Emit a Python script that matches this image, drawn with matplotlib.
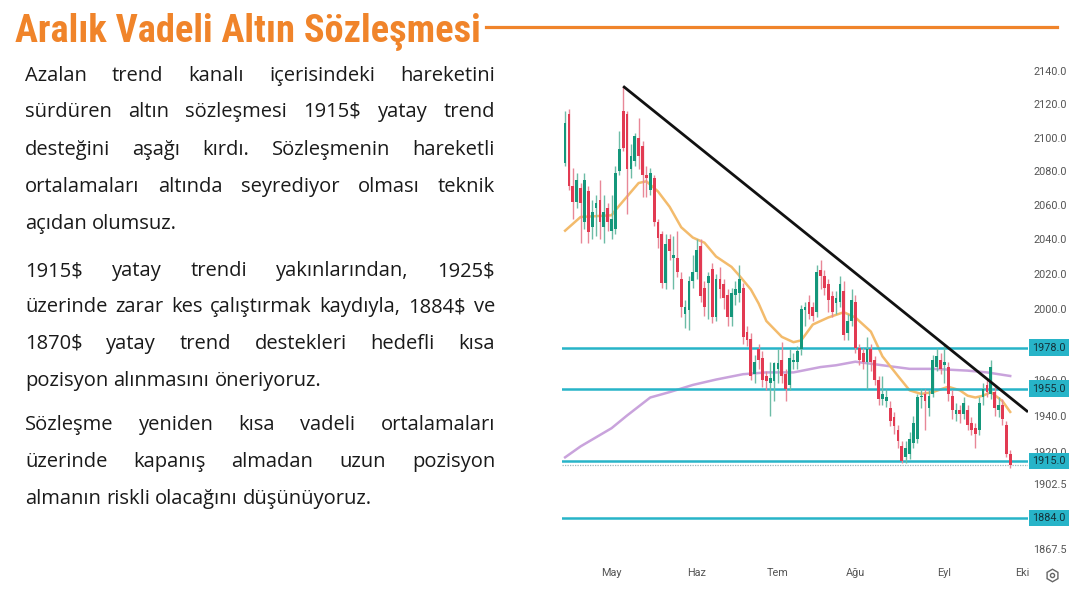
import matplotlib
matplotlib.use("Agg")
import matplotlib.pyplot as plt
import matplotlib.transforms as mtransforms
from matplotlib import font_manager
from matplotlib.lines import Line2D
from matplotlib.ticker import NullLocator
import numpy as np

# ---------------- data ----------------
title = "Aralık Vadeli Altın Sözleşmesi"

paragraphs = [
    ["Azalan trend kanalı içerisindeki hareketini",
     "sürdüren altın sözleşmesi 1915$ yatay trend",
     "desteğini aşağı kırdı. Sözleşmenin hareketli",
     "ortalamaları altında seyrediyor olması teknik",
     "açıdan olumsuz."],
    ["1915$ yatay trendi yakınlarından, 1925$",
     "üzerinde zarar kes çalıştırmak kaydıyla, 1884$ ve",
     "1870$ yatay trend destekleri hedefli kısa",
     "pozisyon alınmasını öneriyoruz."],
    ["Sözleşme yeniden kısa vadeli ortalamaları",
     "üzerinde kapanış almadan uzun pozisyon",
     "almanın riskli olacağını düşünüyoruz."],
]

open_p = [2085, 2114, 2071, 2062, 2070, 2050, 2068, 2047, 2058, 2063,
          2047, 2058, 2045, 2046, 2080, 2116, 2114, 2081, 2086, 2100,
          2095, 2078, 2069, 2076, 2050, 2043, 2015, 2040, 2029, 2029,
          2017, 1997, 1999, 2016, 2021, 2036, 2012, 2015, 2023, 1995,
          2017, 2014, 2008, 1995, 2008, 2009, 2012, 1987, 1983, 1963,
          1977, 1972, 1962, 1958, 1959, 1966, 1971, 1963, 1957, 1970,
          1970, 1977, 1999, 2004, 2001, 1998, 2022, 2019, 2014, 2007,
          2003, 2004, 2010, 1986, 1993, 2004, 1978, 1975, 1970, 1977,
          1971, 1960, 1949, 1948, 1944, 1939, 1932, 1923, 1917, 1919,
          1925, 1927, 1950, 1952, 1944, 1952, 1967, 1971, 1968, 1967,
          1951, 1941, 1943, 1941, 1943, 1936, 1933, 1932, 1950, 1957,
          1952, 1953, 1943, 1946, 1935, 1919]
high_p = [2116, 2117, 2082, 2079, 2073, 2079, 2071, 2063, 2066, 2075,
          2066, 2061, 2066, 2083, 2104, 2131, 2116, 2096, 2103, 2112,
          2098, 2083, 2082, 2078, 2052, 2045, 2043, 2043, 2042, 2045,
          2021, 2005, 2019, 2031, 2040, 2040, 2016, 2021, 2026, 2020,
          2024, 2017, 2011, 2012, 2016, 2025, 2015, 1990, 1986, 1974,
          1980, 1976, 1965, 1970, 1970, 1977, 1981, 1966, 1977, 1975,
          1979, 2002, 2004, 2008, 2004, 2025, 2028, 2022, 2017, 2010,
          2010, 2019, 2016, 1997, 2011, 2008, 1980, 1978, 1984, 1980,
          1973, 1962, 1962, 1955, 1948, 1942, 1935, 1926, 1926, 1931,
          1940, 1952, 1955, 1955, 1954, 1974, 1978, 1975, 1980, 1970,
          1954, 1947, 1946, 1950, 1946, 1939, 1936, 1950, 1958, 1960,
          1971, 1957, 1950, 1949, 1937, 1921]
low_p = [2083, 2069, 2052, 2058, 2038, 2046, 2038, 2040, 2042, 2040,
         2038, 2045, 2040, 2043, 2078, 2092, 2055, 2076, 2083, 2081,
         2065, 2065, 2066, 2048, 2035, 2012, 2011, 2028, 2011, 2018,
         1995, 1989, 1988, 2012, 2017, 2004, 1996, 1994, 1992, 1993,
         2006, 2000, 1990, 1990, 2002, 2004, 1980, 1979, 1960, 1958,
         1966, 1956, 1954, 1940, 1948, 1958, 1958, 1948, 1954, 1966,
         1966, 1974, 1990, 1994, 1993, 1995, 2011, 2008, 1998, 1995,
         1997, 2001, 1982, 1982, 1990, 1975, 1968, 1966, 1955, 1965,
         1957, 1946, 1946, 1945, 1934, 1930, 1922, 1914, 1914, 1916,
         1922, 1925, 1944, 1932, 1940, 1950, 1965, 1963, 1958, 1948,
         1938, 1937, 1936, 1938, 1932, 1929, 1922, 1929, 1946, 1950,
         1949, 1940, 1939, 1935, 1917, 1911]
close_p = [2109, 2071, 2062, 2075, 2061, 2075, 2044, 2056, 2061, 2050,
           2056, 2050, 2052, 2079, 2093, 2094, 2081, 2089, 2101, 2089,
           2078, 2076, 2079, 2050, 2041, 2015, 2037, 2033, 2031, 2021,
           2001, 2001, 2016, 2021, 2034, 2007, 2001, 2019, 1995, 2017,
           2011, 2006, 1995, 2009, 2011, 2017, 1984, 1982, 1962, 1970,
           1971, 1960, 1959, 1961, 1969, 1969, 1962, 1955, 1972, 1971,
           1976, 2000, 2001, 1997, 1996, 2021, 2019, 2012, 2005, 1998,
           2006, 2014, 1985, 1993, 2005, 1978, 1971, 1970, 1977, 1970,
           1960, 1949, 1952, 1950, 1937, 1934, 1926, 1915, 1922, 1927,
           1936, 1950, 1951, 1948, 1951, 1971, 1973, 1966, 1970, 1952,
           1943, 1943, 1941, 1947, 1935, 1932, 1930, 1947, 1955, 1953,
           1967, 1944, 1946, 1938, 1919, 1913]

# short moving average (orange) read at selected candles
ma_short_idx = [0, 4, 12, 13, 16, 19, 21, 24, 27, 30, 33, 36, 39, 43, 45, 48,
                50, 52, 56, 59, 61, 64, 68, 72, 75, 79, 82, 86, 89, 92, 95,
                99, 102, 104, 106, 108, 110, 113, 115]
ma_short_val = [2045, 2053, 2054, 2057, 2065, 2073, 2074, 2068, 2059, 2047,
                2041, 2038, 2030, 2024, 2019, 2011, 2003, 1993, 1984, 1981,
                1982, 1991, 1995, 1998, 1995, 1987, 1973, 1962, 1954, 1952,
                1953, 1956, 1954, 1951, 1950, 1951, 1953, 1948, 1942]
# long moving average (purple)
ma_long_idx = [0, 4, 12, 16, 22, 27, 33, 39, 46, 52, 59, 66, 70, 75, 82, 89,
               95, 104, 109, 115]
ma_long_val = [1917, 1923, 1933, 1940, 1950, 1953, 1957, 1960, 1963, 1964,
               1964, 1967, 1968, 1970, 1968, 1966, 1966, 1965, 1964, 1962]

levels = [1978.0, 1955.0, 1915.0, 1884.0]
trend_idx = [15, 119.6]
trend_val = [2131, 1942]

tick_vals = [2140, 2120, 2100, 2080, 2060, 2040, 2020, 2000, 1960, 1940,
             1920, 1902.5, 1867.5]
month_labels = ["May", "Haz", "Tem", "Ağu", "Eyl", "Eki"]
month_idx = [12, 34, 55, 75, 98, 118]

# ---------------- styling ----------------
W, H = 1080, 615
ORANGE = "#f0842a"
TEXT_C = "#1a1a1a"
GREEN = "#14977b"
RED = "#e23a52"
GREEN_W = "#6dbca6"
RED_W = "#e88797"
TEAL = "#27b4c8"
GRAY = "#555555"

names = {f.name for f in font_manager.fontManager.ttflist}
title_family, title_stretch = "Roboto", "normal"
for cand in ["Liberation Sans Narrow", "Roboto Condensed", "Open Sans Condensed"]:
    if cand in names:
        title_family = cand
        break
else:
    if any(f.name == "DejaVu Sans" and "ondensed" in f.fname
           for f in font_manager.fontManager.ttflist):
        title_family, title_stretch = "DejaVu Sans", "condensed"

BODY_FONT = ["Open Sans", "DejaVu Sans"]
BODY_FS = 14.5
TICK_FONT = ["Roboto", "DejaVu Sans"]

fig = plt.figure(figsize=(W / 100, H / 100), dpi=100)
fig.patch.set_facecolor("white")
renderer = fig.canvas.get_renderer()

# ---------------- title ----------------
t = fig.text(15 / W, 1 - 42 / H, title, fontsize=30, family=title_family,
             fontstretch=title_stretch, fontweight="bold", color=ORANGE,
             va="baseline", ha="left")
tw = t.get_window_extent(renderer).width
fs = min(31, 30 * 465 / tw)
t.set_fontsize(fs)
tw = t.get_window_extent(renderer).width
fig.add_artist(Line2D([(15 + tw + 5) / W, 1057 / W], [1 - 27 / H] * 2,
                      color=ORANGE, lw=2.3, transform=fig.transFigure))

# ---------------- paragraphs ----------------
X_LEFT, X_RIGHT = 25, 495
tmp1 = fig.text(0, 0, "a a", fontsize=BODY_FS, family=BODY_FONT)
tmp2 = fig.text(0, 0, "aa", fontsize=BODY_FS, family=BODY_FONT)
space_w = (tmp1.get_window_extent(renderer).width
           - tmp2.get_window_extent(renderer).width)
tmp1.remove()
tmp2.remove()

baselines = [[81, 117, 155, 192, 229], [276, 312, 349, 386], [430, 467, 504]]


def draw_line(text, base_y, justify):
    words = text.split(" ")
    ts = [fig.text(0, 1 - base_y / H, w, fontsize=BODY_FS, family=BODY_FONT,
                   color=TEXT_C, va="baseline", ha="left") for w in words]
    ws = [tt.get_window_extent(renderer).width for tt in ts]
    if justify and len(words) > 1:
        gap = (X_RIGHT - X_LEFT - sum(ws)) / (len(words) - 1)
    else:
        gap = space_w
    xpos = X_LEFT
    for tt, w in zip(ts, ws):
        tt.set_x(xpos / W)
        xpos += w + gap


for para, bls in zip(paragraphs, baselines):
    for k, (line, by) in enumerate(zip(para, bls)):
        draw_line(line, by, justify=(k < len(para) - 1))

# ---------------- chart ----------------
ax = fig.add_axes([562 / W, 1 - 560 / H, 466 / W, 500 / H])
ax.set_facecolor("white")
ax.set_yscale("log")
for s in ax.spines.values():
    s.set_visible(False)

o = np.array(open_p, float)
h = np.array(high_p, float)
l = np.array(low_p, float)
c = np.array(close_p, float)
x = np.arange(len(c))
up = c >= o
body_lo = np.minimum(o, c)
body_h = np.maximum(np.abs(c - o), 0.9)

# moving averages
ax.plot(ma_long_idx, ma_long_val, color="#c9a3dc", lw=1.8, zorder=1)
ax.plot(ma_short_idx, ma_short_val, color="#f3bb6c", lw=1.8, zorder=1)

# level lines
for lv in levels:
    ax.axhline(lv, color=TEAL, lw=1.8, zorder=1.5)
ax.axhline(close_p[-1], color="#9fb7bb", lw=0.9, ls=(0, (1, 1)), zorder=1.4)

ax.vlines(x[up], l[up], h[up], color=GREEN_W, lw=1.0, zorder=2)
ax.vlines(x[~up], l[~up], h[~up], color=RED_W, lw=1.0, zorder=2)
ax.bar(x[up], body_h[up], bottom=body_lo[up], width=0.72, color=GREEN,
       linewidth=0, zorder=2.2)
ax.bar(x[~up], body_h[~up], bottom=body_lo[~up], width=0.72, color=RED,
       linewidth=0, zorder=2.2)

# trendline
ax.plot(trend_idx, trend_val, color="#111111", lw=2.0, zorder=3,
        solid_capstyle="butt")

ax.set_xlim(-0.8, 119.6)
ax.set_ylim(1861.7, 2147)

ax.yaxis.set_minor_locator(NullLocator())
ax.set_yticks(tick_vals)
ax.set_yticklabels([f"{v:.1f}" for v in tick_vals])
ax.yaxis.set_minor_locator(NullLocator())
ax.yaxis.tick_right()
ax.tick_params(axis="y", length=0, pad=4, labelsize=7.8, labelcolor=GRAY)
for lab in ax.get_yticklabels():
    lab.set_family(TICK_FONT)

ax.set_xticks(month_idx)
ax.set_xticklabels(month_labels)
ax.tick_params(axis="x", length=0, pad=6, labelsize=7.8, labelcolor=GRAY)
for lab in ax.get_xticklabels():
    lab.set_family(TICK_FONT)

trans = mtransforms.blended_transform_factory(ax.transAxes, ax.transData)
for lv in levels:
    ax.text(1.0451, lv, f"{lv:.1f}", transform=trans, ha="center",
            va="center", fontsize=7.8, family=TICK_FONT, color="#14323a",
            clip_on=False, zorder=5,
            bbox=dict(boxstyle="square,pad=0.3", fc=TEAL, ec="none"))

# settings icon
fig.add_artist(Line2D([1052 / W], [1 - 575 / H], marker="h", ms=9,
                      mfc="none", mec="#666666", mew=1.0,
                      transform=fig.transFigure))
fig.add_artist(Line2D([1052 / W], [1 - 575 / H], marker="o", ms=3,
                      mfc="none", mec="#666666", mew=1.0,
                      transform=fig.transFigure))

fig.savefig("out.png", dpi=100, facecolor="white")
